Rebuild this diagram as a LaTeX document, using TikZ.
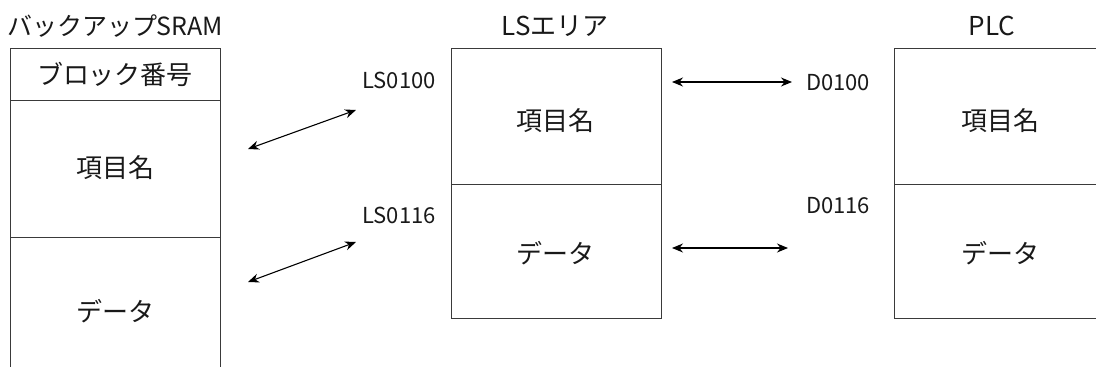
\documentclass[tikz,border=0pt]{standalone}
\usepackage{fontspec}
\setmainfont{Noto Sans CJK JP}
\usetikzlibrary{arrows.meta}
\definecolor{boxline}{HTML}{3A3A3A}
\tikzset{
  part/.style={draw=boxline, line width=1.1pt, minimum width=210pt, inner sep=0pt, anchor=north west},
  txt/.style={font=\fontsize{26}{30}\selectfont, inner sep=0pt, text=black!90},
  lbl/.style={font=\fontsize{22}{26}\selectfont, inner sep=0pt, text=black!90},
  link/.style={line width=1.1pt, {Stealth[length=11pt,width=9pt]}-{Stealth[length=11pt,width=9pt]}}
}
\begin{document}
\begin{tikzpicture}[x=1pt,y=-1pt]
\useasboundingbox (0,0) rectangle (1096,367);
\clip (0,0) rectangle (1096,367);
% left box (backup SRAM)
\node[part, minimum height=52pt] (lblk) at (10,48) {};
\node[part, minimum height=137pt] (litem) at (10,100) {};
\node[part, minimum height=150pt] (ldata) at (10,237) {};
\node[txt, font=\fontsize{25}{30}\selectfont] (ltitle) at (115,26) {バックアップ\kern-1pt SRAM};
\node[txt] (lblkt) at (115,74) {ブロック番号};
\node[txt] (litemt) at (115,168) {項目名};
\node[txt] (ldatat) at (115,311) {データ};
% middle box (LS area)
\node[part, minimum height=136pt] (mitem) at (451,48) {};
\node[part, minimum height=134pt] (mdata) at (451,184) {};
\node[txt] (mtitle) at (555,26) {LSエリア};
\node[txt] (mitemt) at (555,121) {項目名};
\node[txt] (mdatat) at (555,253) {データ};
% right box (PLC)
\node[part, minimum height=136pt] (ritem) at (894,48) {};
\node[part, minimum height=134pt] (rdata) at (894,184) {};
\node[txt] (rtitle) at (992,26) {PLC};
\node[txt] (ritemt) at (1000,121) {項目名};
\node[txt] (rdatat) at (1000,253) {データ};
% address labels
\node[lbl, anchor=east] (ls100) at (436,80) {LS0100};
\node[lbl, anchor=east] (ls116) at (436,215) {LS0116};
\node[lbl, anchor=west] (d100) at (806,83) {D0100};
\node[lbl, anchor=west] (d116) at (806,206) {D0116};
% arrow end points
\coordinate (a1s) at (248,149);
\coordinate (a1e) at (356,110);
\coordinate (a2s) at (248,282);
\coordinate (a2e) at (356,242);
\coordinate (b1s) at (672,82);
\coordinate (b1e) at (792,82);
\coordinate (b2s) at (672,248);
\coordinate (b2e) at (788,248);
\draw[link] (a1s) -- (a1e);
\draw[link] (a2s) -- (a2e);
\draw[link] (b1s) -- (b1e);
\draw[link] (b2s) -- (b2e);
\end{tikzpicture}
\end{document}
